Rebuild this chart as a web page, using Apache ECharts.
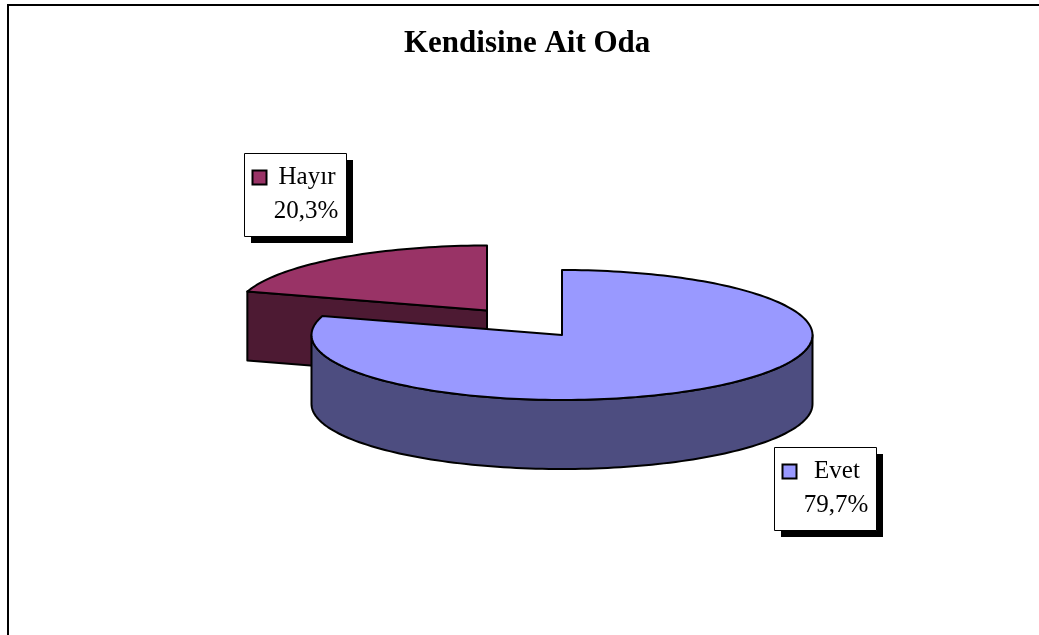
<!DOCTYPE html>
<html>
<head>
<meta charset="utf-8">
<style>html,body{margin:0;padding:0;background:#fff;overflow:hidden}#c{width:1039px;height:635px}</style>
<script src="https://cdn.jsdelivr.net/npm/echarts@6/dist/echarts.min.js"></script>
</head>
<body>
<div id="c"></div>
<script>
var chartTitle = 'Kendisine Ait Oda';
var categories = ['Hayır', 'Evet'];
var shares = [20.3, 79.7];
var topColors = ['#993366', '#9999FF'];
var sideColors = ['#4D1A33', '#4D4D80'];
var centers = [[487, 310.5], [562, 335]];
var labelBoxes = [[244, 153], [774, 447]];

var RX = 250.5, RY = 65, DEPTH = 69, STROKE = 2;
var FONT = '"Liberation Serif","Times New Roman",serif';
var total = shares.reduce(function (a, b) { return a + b; }, 0);

function pt(c, deg, dy) {
  var t = deg * Math.PI / 180;
  return [c[0] + RX * Math.sin(t), c[1] - RY * Math.cos(t) + (dy || 0)];
}
function arc(c, a, b, dy) {
  var out = [], n = Math.max(2, Math.ceil(Math.abs(b - a) / 1.5));
  for (var i = 0; i <= n; i++) out.push(pt(c, a + (b - a) * i / n, dy));
  return out;
}
function poly(points, fill) {
  return {
    type: 'polygon',
    shape: { points: points },
    style: { fill: fill, stroke: '#000', lineWidth: STROKE, lineJoin: 'round' }
  };
}
function renderSlice(params, api) {
  var i = api.value(0), share = api.value(1);
  var after = 0;
  for (var k = i + 1; k < shares.length; k++) after += shares[k];
  var a0 = 360 * after / total, a1 = a0 + 360 * share / total;
  var c = centers[i], kids = [];

  if (a0 < 180 && a1 > 90) {
    // outer wall facing the viewer, between 90 and 270 degrees
    var wa = Math.max(a0, 90), wb = Math.min(a1, 270);
    kids.push(poly(arc(c, wa, wb, 0).concat(arc(c, wb, wa, DEPTH)), sideColors[i]));
  }
  if (a0 > 180) {
    // cut face at the start of the slice
    var p = pt(c, a0, 0), q = [c[0], c[1]];
    kids.push(poly([p, q, [q[0], q[1] + DEPTH], [p[0], p[1] + DEPTH]], sideColors[i]));
  }
  kids.push(poly([[c[0], c[1]]].concat(arc(c, a0, a1, 0)), topColors[i]));

  var b = labelBoxes[i], pct = share.toFixed(1).replace('.', ',') + '%';
  kids.push({ type: 'rect', shape: { x: b[0] + 7, y: b[1] + 7, width: 102, height: 83 }, style: { fill: '#000' } });
  kids.push({ type: 'rect', shape: { x: b[0] + 0.5, y: b[1] + 0.5, width: 102, height: 83 }, style: { fill: '#fff', stroke: '#000', lineWidth: 1 } });
  kids.push({ type: 'rect', shape: { x: b[0] + 8.5, y: b[1] + 17.5, width: 14, height: 14 }, style: { fill: topColors[i], stroke: '#000', lineWidth: 2 } });
  kids.push({ type: 'text', style: { x: b[0] + 63, y: b[1] + 12, text: categories[i], fill: '#000', font: '25px ' + FONT, align: 'center', verticalAlign: 'top' } });
  kids.push({ type: 'text', style: { x: b[0] + 62, y: b[1] + 46, text: pct, fill: '#000', font: '25px ' + FONT, align: 'center', verticalAlign: 'top' } });
  return { type: 'group', children: kids };
}

var chart = echarts.init(document.getElementById('c'), null, { renderer: 'canvas' });
chart.setOption({
  animation: false,
  backgroundColor: '#fff',
  title: {
    text: chartTitle, left: 399, top: 23,
    textStyle: { fontFamily: FONT, fontWeight: 'bold', fontSize: 31, color: '#000' }
  },
  graphic: [
    { type: 'polyline', silent: true, shape: { points: [[8, 635], [8, 5], [1039, 5]] }, style: { fill: 'none', stroke: '#000', lineWidth: 2 } }
  ],
  series: [{
    type: 'custom',
    coordinateSystem: 'none',
    silent: true,
    renderItem: renderSlice,
    data: categories.map(function (n, i) { return { name: n, value: [i, shares[i]] }; })
  }]
});
</script>
</body>
</html>
